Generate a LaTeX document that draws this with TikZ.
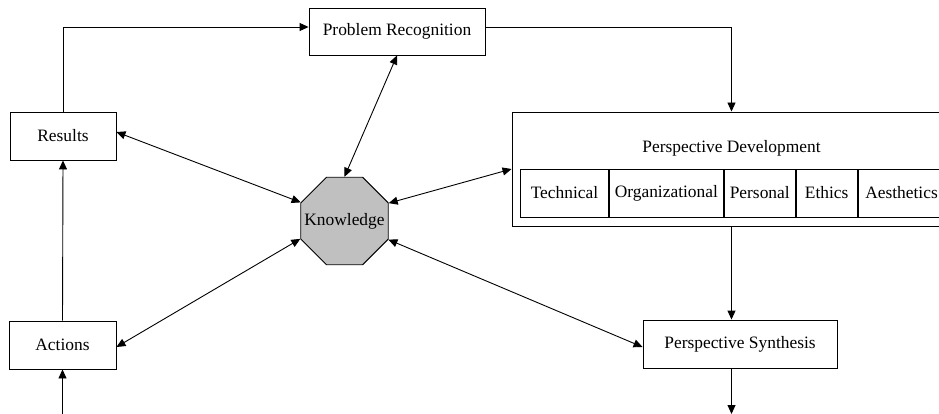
\documentclass[tikz,border=0pt]{standalone}
\usepackage{fontspec}
\setmainfont{Liberation Serif}
\usetikzlibrary{shapes.geometric,arrows.meta}
\definecolor{kfill}{RGB}{192,192,192}
\begin{document}
\begin{tikzpicture}[x=1pt,y=-1pt,
  every node/.style={font=\fontsize{17.4}{20}\selectfont, line width=0.9pt, inner sep=0pt},
  box/.style={draw, rectangle, minimum height=48pt},
  cell/.style={box, anchor=west},
  link/.style={line width=0.9pt, -{Triangle[length=9pt,width=8pt]}},
  both/.style={line width=0.9pt, {Triangle[length=9pt,width=8pt]}-{Triangle[length=9pt,width=8pt]}},
]
\useasboundingbox (0,0) rectangle (939,414);
\clip (0,0) rectangle (939,414);

% process boxes
\node[box, minimum width=106pt] (res) at (63,136) {Results};
\node[box, minimum width=107pt] (act) at (62.5,345) {Actions};
\node[box, minimum width=176pt, minimum height=47pt] (pr) at (397,31.5) {Problem Recognition};
\node[box, minimum width=194pt] (ps) at (740,344) {Perspective Synthesis};

% perspective development frame with its five perspectives
\node[box, minimum width=448pt, minimum height=114pt] (pd) at (736,169) {};
\node (pdt) at (731.5,148) {Perspective Development};
\node[cell, minimum width=88pt]  (c1) at (520,193) {Technical};
\node[cell, minimum width=114pt] (c2) at (c1.east) {Organizational};
\node[cell, minimum width=71pt]  (c3) at (c2.east) {Personal};
\node[cell, minimum width=61pt]  (c4) at (c3.east) {Ethics};
\node[cell, minimum width=87pt]  (c5) at (c4.east) {Aesthetics};

% central knowledge hub
\node[draw, regular polygon, regular polygon sides=8, minimum size=94.7pt,
      fill=kfill, label=center:Knowledge] (K) at (344.5,221) {};

% loose ends entering and leaving the cycle
\coordinate (in) at (62.5,414);
\coordinate (out) at (731.5,414);

% main cycle
\draw[link] (res.north) |- ([yshift=4.5pt]pr.west);
\draw[link] ([yshift=4.5pt]pr.east) -| (pdt |- pd.north);
\draw[link] (pdt |- pd.south) -- (pdt |- ps.north);
\draw[link] (pdt |- ps.south) -- (out);
\draw[link] (in) -- (act.south);
\draw[link] (act.north) -- (res.south);

% exchanges with knowledge
\draw[both] ([yshift=4pt]res.east) -- (K.157.5);
\draw[both] (pr.south) -- (K.north);
\draw[both] (pd.west) -- (K.22.5);
\draw[both] ([yshift=-2pt]act.east) -- (K.202.5);
\draw[both] ([yshift=-3pt]ps.west) -- (K.337.5);
\end{tikzpicture}
\end{document}
